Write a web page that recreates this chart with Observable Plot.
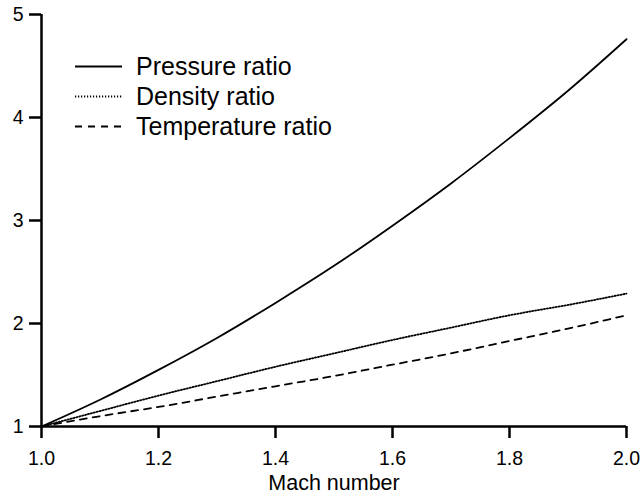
<!DOCTYPE html>
<html>
<head>
<meta charset="utf-8">
<script src="https://cdn.jsdelivr.net/npm/d3@7"></script>
<script src="https://cdn.jsdelivr.net/npm/@observablehq/plot@0.6"></script>
<style>
  html, body { margin: 0; padding: 0; background: white; }
</style>
</head>
<body>
<div id="chart"></div>
<script>
const mach = [1.0, 1.1, 1.2, 1.3, 1.4, 1.5, 1.6, 1.7, 1.8, 1.9, 2.0];
const pressureRatio = [1.00, 1.26, 1.55, 1.86, 2.20, 2.56, 2.95, 3.36, 3.80, 4.26, 4.76];
const densityRatio = [1.00, 1.15, 1.30, 1.44, 1.58, 1.71, 1.84, 1.96, 2.08, 2.18, 2.29];
const temperatureRatio = [1.00, 1.10, 1.19, 1.29, 1.39, 1.49, 1.60, 1.71, 1.83, 1.95, 2.08];
const seriesNames = ["Pressure ratio", "Density ratio", "Temperature ratio"];
const xTicks = [1.0, 1.2, 1.4, 1.6, 1.8, 2.0];
const yTicks = [1, 2, 3, 4, 5];
const xLabel = "Mach number";

const dashes = [null, "1.2,1.8", "7,6"];
const widths = [1.8, 1.8, 1.8];
const seriesValues = [pressureRatio, densityRatio, temperatureRatio];

const lineMarks = seriesValues.map((vals, i) =>
  Plot.line(mach.map((m, j) => ({x: m, y: vals[j]})), {
    x: "x", y: "y", stroke: "black", strokeWidth: widths[i],
    strokeDasharray: dashes[i], curve: "monotone-x"
  })
);

const font = "'Liberation Sans', Arial, Helvetica, sans-serif";

const chart = Plot.plot({
  width: 642, height: 497,
  marginLeft: 41, marginRight: 16, marginTop: 14, marginBottom: 71,
  style: {fontFamily: font, color: "black", background: "white", overflow: "visible"},
  x: {domain: [1, 2]},
  y: {domain: [1, 5]},
  marks: [
    Plot.axisX(xTicks, {tickSize: 12, tickPadding: 13, tickFormat: d => d.toFixed(1), fontSize: 19.5, strokeWidth: 2.5, label: null}),
    Plot.axisY(yTicks, {tickSize: 12, tickPadding: 6, tickFormat: d => String(d), fontSize: 19.5, strokeWidth: 2.5, label: null}),
    Plot.ruleX([1], {y1: 1, y2: 5, strokeWidth: 2.5, stroke: "black"}),
    Plot.ruleY([1], {x1: 1, x2: 2, strokeWidth: 2.5, stroke: "black"}),
    ...lineMarks,
    Plot.text([xLabel], {text: d => d, frameAnchor: "bottom", lineAnchor: "top", dy: 48, fontSize: 21.5, fill: "black"})
  ]
});

const svg = d3.select(chart);
const lg = svg.append("g").attr("font-family", font).attr("font-size", 25).attr("text-anchor", "start");
seriesNames.forEach((name, i) => {
  const y = 66.5 + i * 30;
  lg.append("line")
    .attr("x1", 75).attr("x2", 122).attr("y1", y).attr("y2", y)
    .attr("stroke", "black").attr("stroke-width", widths[i])
    .attr("stroke-dasharray", dashes[i]);
  lg.append("text")
    .attr("x", 136).attr("y", y).attr("dy", "0.35em")
    .attr("text-anchor", "start")
    .attr("fill", "black").text(name);
});

document.getElementById("chart").appendChild(chart);
</script>
</body>
</html>
